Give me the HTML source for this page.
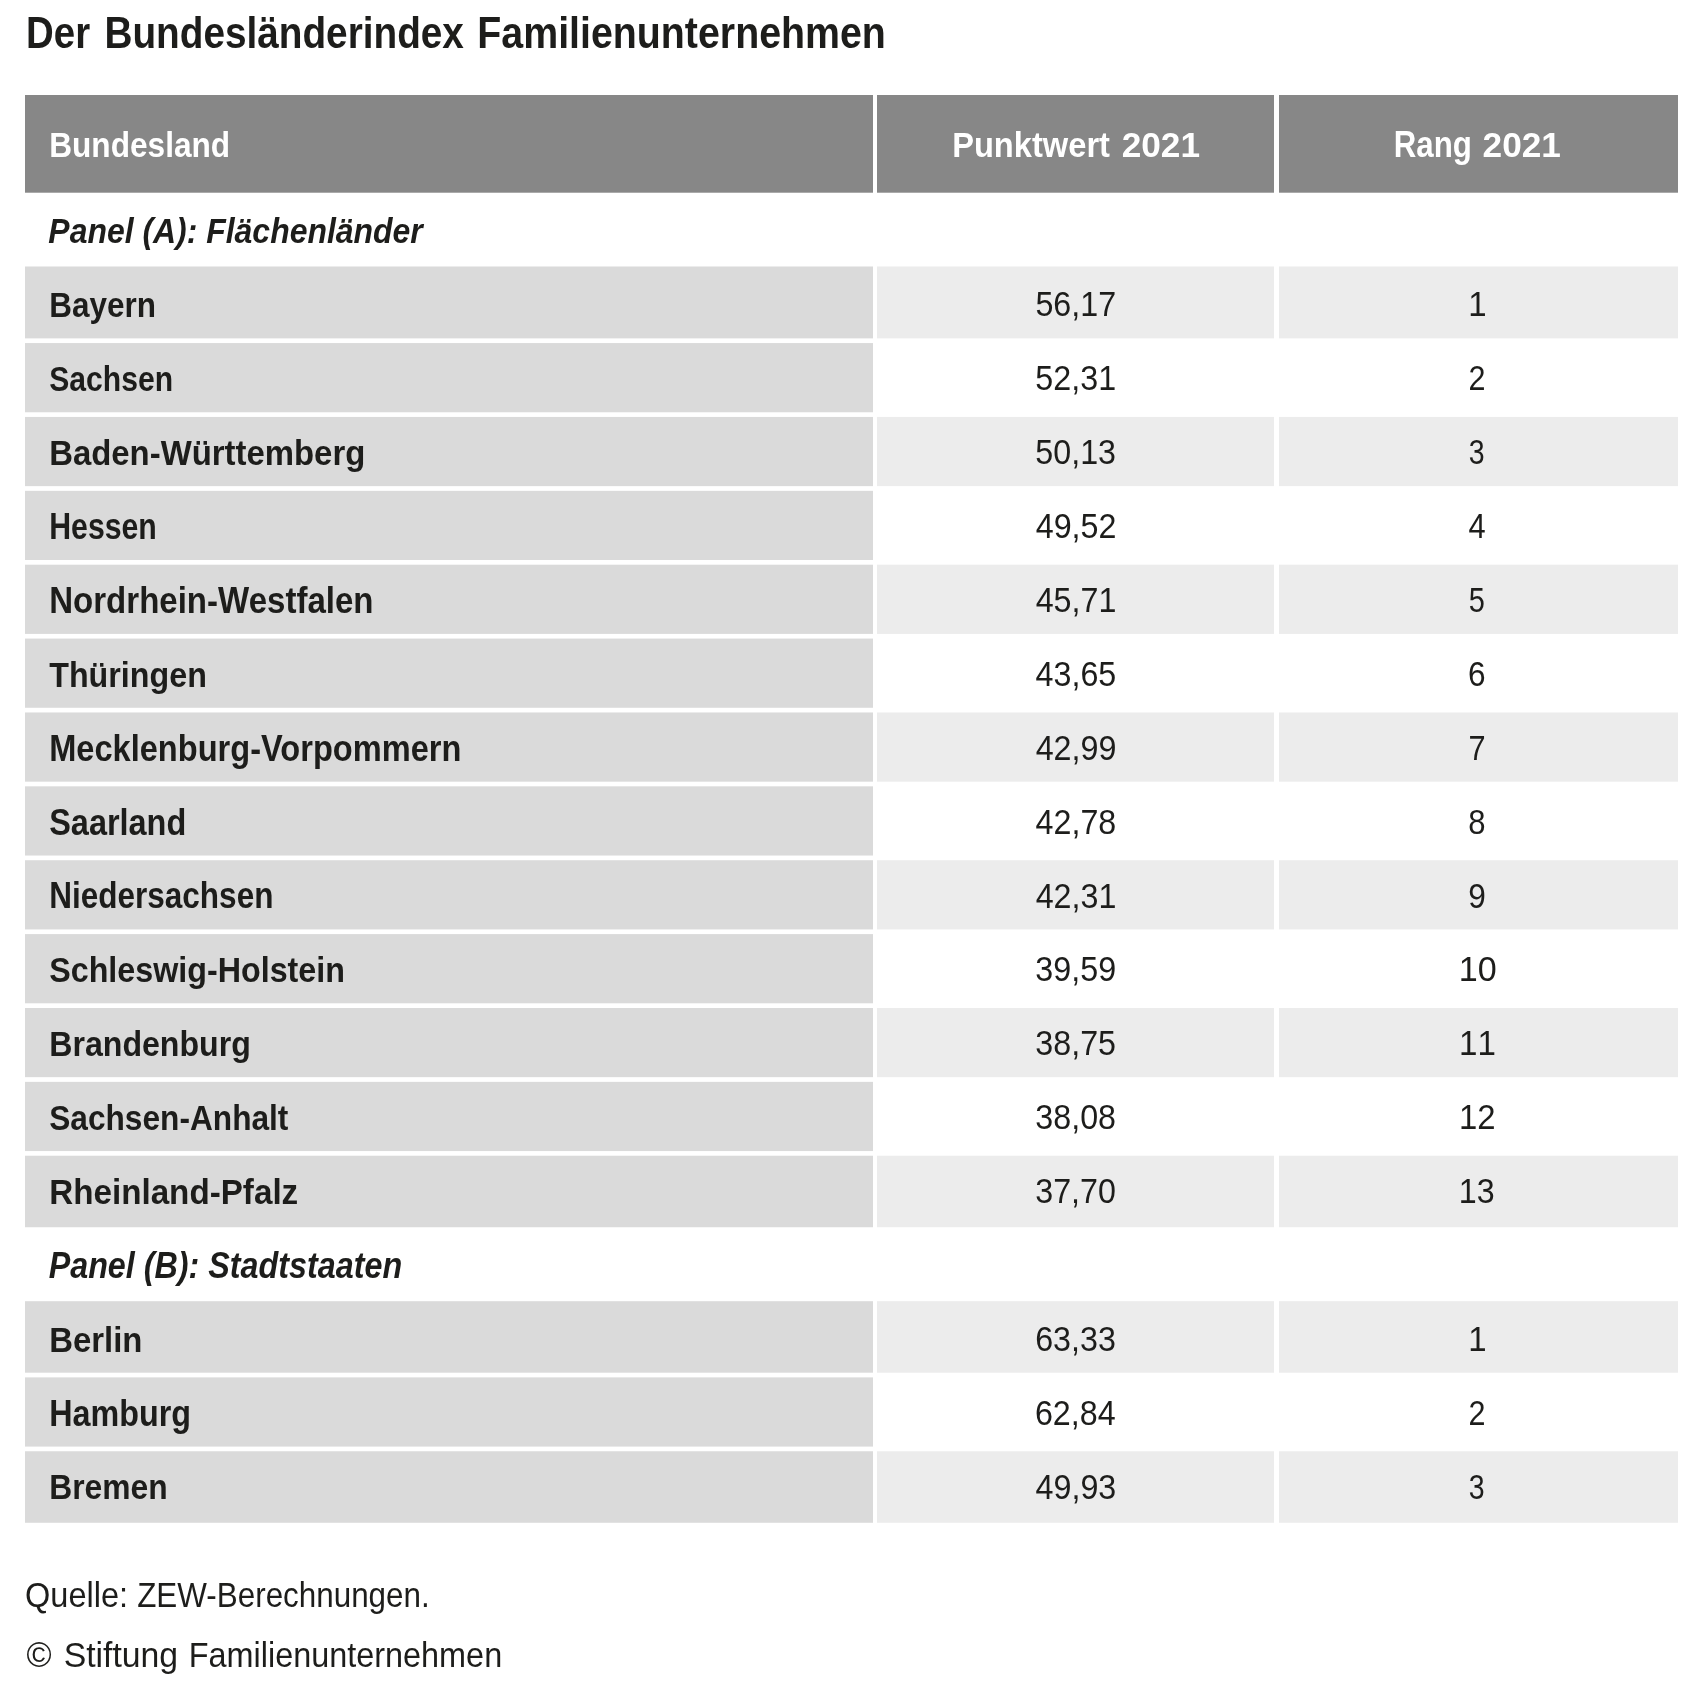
<!DOCTYPE html>
<html lang="de"><head><meta charset="utf-8"><title>Der Bundesländerindex Familienunternehmen</title>
<style>
html,body{margin:0;padding:0;background:#fff;}
body{width:1703px;height:1681px;overflow:hidden;font-family:"Liberation Sans",sans-serif;}
svg{display:block;will-change:transform;}
svg text{font-family:"Liberation Sans",sans-serif;white-space:pre;}
</style></head><body>
<svg width="1703" height="1681" viewBox="0 0 1703 1681">
<rect x="0" y="0" width="1703" height="1681" fill="#ffffff"/>
<rect x="25" y="95" width="848" height="97.7" fill="#878787"/>
<rect x="877" y="95" width="397" height="97.7" fill="#878787"/>
<rect x="1279" y="95" width="399" height="97.7" fill="#878787"/>
<rect x="25" y="266.48" width="848" height="71.9" fill="#dadada"/>
<rect x="877" y="266.48" width="397" height="71.9" fill="#ececec"/>
<rect x="1279" y="266.48" width="399" height="71.9" fill="#ececec"/>
<text transform="translate(49.20,317.38) scale(0.8742,1)" font-size="36" font-weight="bold" font-style="normal" fill="#1d1d1b">Bayern</text>
<rect x="25" y="343.06" width="848" height="69.2" fill="#dadada"/>
<text transform="translate(49.20,391.26) scale(0.8370,1)" font-size="36" font-weight="bold" font-style="normal" fill="#1d1d1b">Sachsen</text>
<rect x="25" y="416.94" width="848" height="69.2" fill="#dadada"/>
<rect x="877" y="416.94" width="397" height="69.2" fill="#ececec"/>
<rect x="1279" y="416.94" width="399" height="69.2" fill="#ececec"/>
<text transform="translate(49.20,465.14) scale(0.9141,1)" font-size="36" font-weight="bold" font-style="normal" fill="#1d1d1b">Baden-Württemberg</text>
<rect x="25" y="490.82" width="848" height="69.2" fill="#dadada"/>
<text transform="translate(49.20,539.02) scale(0.8405,1)" font-size="36" font-weight="bold" font-style="normal" fill="#1d1d1b">Hessen</text>
<rect x="25" y="564.7" width="848" height="69.2" fill="#dadada"/>
<rect x="877" y="564.7" width="397" height="69.2" fill="#ececec"/>
<rect x="1279" y="564.7" width="399" height="69.2" fill="#ececec"/>
<text transform="translate(49.20,612.90) scale(0.9179,1)" font-size="36" font-weight="bold" font-style="normal" fill="#1d1d1b">Nordrhein-Westfalen</text>
<rect x="25" y="638.58" width="848" height="69.2" fill="#dadada"/>
<text transform="translate(49.20,686.78) scale(0.8961,1)" font-size="36" font-weight="bold" font-style="normal" fill="#1d1d1b">Thüringen</text>
<rect x="25" y="712.46" width="848" height="69.2" fill="#dadada"/>
<rect x="877" y="712.46" width="397" height="69.2" fill="#ececec"/>
<rect x="1279" y="712.46" width="399" height="69.2" fill="#ececec"/>
<text transform="translate(49.20,760.66) scale(0.9053,1)" font-size="36" font-weight="bold" font-style="normal" fill="#1d1d1b">Mecklenburg-Vorpommern</text>
<rect x="25" y="786.34" width="848" height="69.2" fill="#dadada"/>
<text transform="translate(49.20,834.54) scale(0.9015,1)" font-size="36" font-weight="bold" font-style="normal" fill="#1d1d1b">Saarland</text>
<rect x="25" y="860.22" width="848" height="69.2" fill="#dadada"/>
<rect x="877" y="860.22" width="397" height="69.2" fill="#ececec"/>
<rect x="1279" y="860.22" width="399" height="69.2" fill="#ececec"/>
<text transform="translate(49.20,908.42) scale(0.8756,1)" font-size="36" font-weight="bold" font-style="normal" fill="#1d1d1b">Niedersachsen</text>
<rect x="25" y="934.1" width="848" height="69.2" fill="#dadada"/>
<text transform="translate(49.20,982.30) scale(0.8964,1)" font-size="36" font-weight="bold" font-style="normal" fill="#1d1d1b">Schleswig-Holstein</text>
<rect x="25" y="1007.98" width="848" height="69.2" fill="#dadada"/>
<rect x="877" y="1007.98" width="397" height="69.2" fill="#ececec"/>
<rect x="1279" y="1007.98" width="399" height="69.2" fill="#ececec"/>
<text transform="translate(49.20,1056.18) scale(0.8926,1)" font-size="36" font-weight="bold" font-style="normal" fill="#1d1d1b">Brandenburg</text>
<rect x="25" y="1081.86" width="848" height="69.2" fill="#dadada"/>
<text transform="translate(49.20,1130.06) scale(0.8795,1)" font-size="36" font-weight="bold" font-style="normal" fill="#1d1d1b">Sachsen-Anhalt</text>
<rect x="25" y="1155.74" width="848" height="71.5" fill="#dadada"/>
<rect x="877" y="1155.74" width="397" height="71.5" fill="#ececec"/>
<rect x="1279" y="1155.74" width="399" height="71.5" fill="#ececec"/>
<text transform="translate(49.20,1203.94) scale(0.9224,1)" font-size="36" font-weight="bold" font-style="normal" fill="#1d1d1b">Rheinland-Pfalz</text>
<rect x="25" y="1301.2" width="848" height="71.5" fill="#dadada"/>
<rect x="877" y="1301.2" width="397" height="71.5" fill="#ececec"/>
<rect x="1279" y="1301.2" width="399" height="71.5" fill="#ececec"/>
<text transform="translate(49.20,1351.70) scale(0.9133,1)" font-size="36" font-weight="bold" font-style="normal" fill="#1d1d1b">Berlin</text>
<rect x="25" y="1377.38" width="848" height="69.2" fill="#dadada"/>
<text transform="translate(49.20,1425.58) scale(0.8977,1)" font-size="36" font-weight="bold" font-style="normal" fill="#1d1d1b">Hamburg</text>
<rect x="25" y="1451.26" width="848" height="71.5" fill="#dadada"/>
<rect x="877" y="1451.26" width="397" height="71.5" fill="#ececec"/>
<rect x="1279" y="1451.26" width="399" height="71.5" fill="#ececec"/>
<text transform="translate(49.20,1499.46) scale(0.8835,1)" font-size="36" font-weight="bold" font-style="normal" fill="#1d1d1b">Bremen</text>
<text transform="translate(1035.43,316.48) scale(0.9242,1)" font-size="34.9" font-weight="normal" font-style="normal" fill="#1d1d1b" style="font-kerning:none">56,17</text>
<text transform="translate(1468.22,316.48) scale(0.9448,1)" font-size="34.9" font-weight="normal" font-style="normal" fill="#1d1d1b" style="font-kerning:none">1</text>
<text transform="translate(1035.37,390.36) scale(0.9242,1)" font-size="34.9" font-weight="normal" font-style="normal" fill="#1d1d1b" style="font-kerning:none">52,31</text>
<text transform="translate(1468.57,390.36) scale(0.8750,1)" font-size="34.9" font-weight="normal" font-style="normal" fill="#1d1d1b" style="font-kerning:none">2</text>
<text transform="translate(1035.31,464.24) scale(0.9242,1)" font-size="34.9" font-weight="normal" font-style="normal" fill="#1d1d1b" style="font-kerning:none">50,13</text>
<text transform="translate(1468.67,464.24) scale(0.8176,1)" font-size="34.9" font-weight="normal" font-style="normal" fill="#1d1d1b" style="font-kerning:none">3</text>
<text transform="translate(1035.72,538.12) scale(0.9242,1)" font-size="34.9" font-weight="normal" font-style="normal" fill="#1d1d1b" style="font-kerning:none">49,52</text>
<text transform="translate(1468.54,538.12) scale(0.8845,1)" font-size="34.9" font-weight="normal" font-style="normal" fill="#1d1d1b" style="font-kerning:none">4</text>
<text transform="translate(1035.66,612.00) scale(0.9242,1)" font-size="34.9" font-weight="normal" font-style="normal" fill="#1d1d1b" style="font-kerning:none">45,71</text>
<text transform="translate(1468.86,612.00) scale(0.8297,1)" font-size="34.9" font-weight="normal" font-style="normal" fill="#1d1d1b" style="font-kerning:none">5</text>
<text transform="translate(1035.60,685.88) scale(0.9242,1)" font-size="34.9" font-weight="normal" font-style="normal" fill="#1d1d1b" style="font-kerning:none">43,65</text>
<text transform="translate(1468.12,685.88) scale(0.9048,1)" font-size="34.9" font-weight="normal" font-style="normal" fill="#1d1d1b" style="font-kerning:none">6</text>
<text transform="translate(1035.66,759.76) scale(0.9242,1)" font-size="34.9" font-weight="normal" font-style="normal" fill="#1d1d1b" style="font-kerning:none">42,99</text>
<text transform="translate(1468.46,759.76) scale(0.8813,1)" font-size="34.9" font-weight="normal" font-style="normal" fill="#1d1d1b" style="font-kerning:none">7</text>
<text transform="translate(1035.60,833.64) scale(0.9242,1)" font-size="34.9" font-weight="normal" font-style="normal" fill="#1d1d1b" style="font-kerning:none">42,78</text>
<text transform="translate(1468.36,833.64) scale(0.8910,1)" font-size="34.9" font-weight="normal" font-style="normal" fill="#1d1d1b" style="font-kerning:none">8</text>
<text transform="translate(1035.66,907.52) scale(0.9242,1)" font-size="34.9" font-weight="normal" font-style="normal" fill="#1d1d1b" style="font-kerning:none">42,31</text>
<text transform="translate(1468.23,907.52) scale(0.9048,1)" font-size="34.9" font-weight="normal" font-style="normal" fill="#1d1d1b" style="font-kerning:none">9</text>
<text transform="translate(1035.37,981.40) scale(0.9242,1)" font-size="34.9" font-weight="normal" font-style="normal" fill="#1d1d1b" style="font-kerning:none">39,59</text>
<text transform="translate(1458.83,981.40) scale(0.9777,1)" font-size="34.9" font-weight="normal" font-style="normal" fill="#1d1d1b" style="font-kerning:none">10</text>
<text transform="translate(1035.31,1055.28) scale(0.9242,1)" font-size="34.9" font-weight="normal" font-style="normal" fill="#1d1d1b" style="font-kerning:none">38,75</text>
<text transform="translate(1459.00,1055.28) scale(0.9500,1)" font-size="34.9" font-weight="normal" font-style="normal" fill="#1d1d1b" style="font-kerning:none">11</text>
<text transform="translate(1035.31,1129.16) scale(0.9242,1)" font-size="34.9" font-weight="normal" font-style="normal" fill="#1d1d1b" style="font-kerning:none">38,08</text>
<text transform="translate(1458.93,1129.16) scale(0.9419,1)" font-size="34.9" font-weight="normal" font-style="normal" fill="#1d1d1b" style="font-kerning:none">12</text>
<text transform="translate(1035.25,1203.04) scale(0.9242,1)" font-size="34.9" font-weight="normal" font-style="normal" fill="#1d1d1b" style="font-kerning:none">37,70</text>
<text transform="translate(1458.77,1203.04) scale(0.9235,1)" font-size="34.9" font-weight="normal" font-style="normal" fill="#1d1d1b" style="font-kerning:none">13</text>
<text transform="translate(1035.14,1350.80) scale(0.9242,1)" font-size="34.9" font-weight="normal" font-style="normal" fill="#1d1d1b" style="font-kerning:none">63,33</text>
<text transform="translate(1468.22,1350.80) scale(0.9448,1)" font-size="34.9" font-weight="normal" font-style="normal" fill="#1d1d1b" style="font-kerning:none">1</text>
<text transform="translate(1034.91,1424.68) scale(0.9242,1)" font-size="34.9" font-weight="normal" font-style="normal" fill="#1d1d1b" style="font-kerning:none">62,84</text>
<text transform="translate(1468.57,1424.68) scale(0.8750,1)" font-size="34.9" font-weight="normal" font-style="normal" fill="#1d1d1b" style="font-kerning:none">2</text>
<text transform="translate(1035.60,1498.56) scale(0.9242,1)" font-size="34.9" font-weight="normal" font-style="normal" fill="#1d1d1b" style="font-kerning:none">49,93</text>
<text transform="translate(1468.67,1498.56) scale(0.8176,1)" font-size="34.9" font-weight="normal" font-style="normal" fill="#1d1d1b" style="font-kerning:none">3</text>
<text transform="translate(49.20,156.70) scale(0.8786,1)" font-size="36" font-weight="bold" font-style="normal" fill="#fff">Bundesland</text>
<text transform="translate(952.14,156.70) scale(0.9075,1)" font-size="36" font-weight="bold" font-style="normal" fill="#fff">Punktwert</text>
<text transform="translate(1121.68,156.70) scale(0.9785,1)" font-size="36" font-weight="bold" font-style="normal" fill="#fff" style="font-kerning:none">2021</text>
<text transform="translate(1393.74,156.70) scale(0.8680,1)" font-size="36" font-weight="bold" font-style="normal" fill="#fff">Rang</text>
<text transform="translate(1482.58,156.70) scale(0.9785,1)" font-size="36" font-weight="bold" font-style="normal" fill="#fff" style="font-kerning:none">2021</text>
<text transform="translate(48.35,242.80) scale(0.8874,1)" font-size="36" font-weight="bold" font-style="italic" fill="#1d1d1b">Panel (A): Flächenländer</text>
<text transform="translate(48.64,1277.50) scale(0.8974,1)" font-size="36" font-weight="bold" font-style="italic" fill="#1d1d1b">Panel (B): Stadtstaaten</text>
<text transform="translate(26.08,47.70) scale(0.8731,1)" font-size="44" font-weight="bold" font-style="normal" fill="#1d1d1b">Der</text>
<text transform="translate(104.46,47.70) scale(0.8807,1)" font-size="44" font-weight="bold" font-style="normal" fill="#1d1d1b">Bundesländerindex</text>
<text transform="translate(477.32,47.70) scale(0.8939,1)" font-size="44" font-weight="bold" font-style="normal" fill="#1d1d1b">Familienunternehmen</text>
<text transform="translate(25.09,1606.50) scale(0.9292,1)" font-size="35" font-weight="normal" font-style="normal" fill="#1d1d1b">Quelle:</text>
<text transform="translate(137.19,1606.50) scale(0.8969,1)" font-size="35" font-weight="normal" font-style="normal" fill="#1d1d1b">ZEW-Berechnungen.</text>
<text transform="translate(26.41,1667.20) scale(0.9737,1)" font-size="35" font-weight="normal" font-style="normal" fill="#1d1d1b">©</text>
<text transform="translate(63.63,1667.20) scale(0.9654,1)" font-size="35" font-weight="normal" font-style="normal" fill="#1d1d1b">Stiftung</text>
<text transform="translate(188.74,1667.20) scale(0.9263,1)" font-size="35" font-weight="normal" font-style="normal" fill="#1d1d1b">Familienunternehmen</text>
</svg>
</body></html>
